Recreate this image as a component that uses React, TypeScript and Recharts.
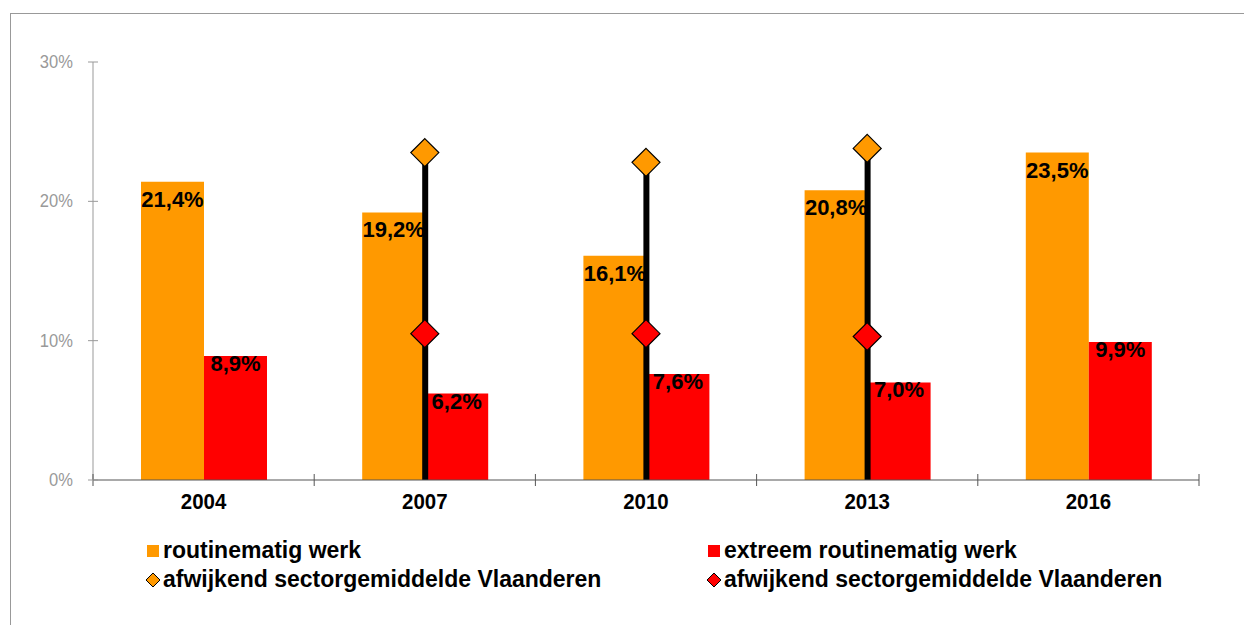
import { Bar, ComposedChart, LabelList, Scatter, XAxis, YAxis } from "recharts";

const years = ["2004", "2007", "2010", "2013", "2016"];
const routine = [21.4, 19.2, 16.1, 20.8, 23.5];
const extreme = [8.9, 6.2, 7.6, 7.0, 9.9];
const sectorRoutine = [null, 23.5, 22.8, 23.8, null];
const sectorExtreme = [null, 10.5, 10.5, 10.3, null];
const yTicks = [0, 10, 20, 30];

const legendItems = [
  { label: "routinematig werk", color: "#FF9900", icon: "square" },
  { label: "extreem routinematig werk", color: "#FF0000", icon: "square" },
  { label: "afwijkend sectorgemiddelde Vlaanderen", color: "#FF9900", icon: "diamond" },
  { label: "afwijkend sectorgemiddelde Vlaanderen", color: "#FF0000", icon: "diamond" },
];

const data = years.map((year, i) => ({
  year,
  routine: routine[i],
  extreme: extreme[i],
  sectorRoutine: sectorRoutine[i],
  sectorExtreme: sectorExtreme[i],
}));

const W = 1244;
const H = 625;
const margin = { top: 62, right: 45, bottom: 105, left: 0 };
const yAxisWidth = 93;
const halfBand = (W - margin.left - margin.right - yAxisWidth) / years.length / 2;
const font = "'Liberation Sans', Arial, sans-serif";

const fmt = (v: number) => v.toFixed(1).replace(".", ",") + "%";

const XTick = (props: any) => {
  const { x, y, payload, index } = props;
  return (
    <g>
      <line x1={x - halfBand} x2={x - halfBand} y1={y - 6} y2={y + 6} stroke="#555" />
      {index === years.length - 1 && (
        <line x1={x + halfBand} x2={x + halfBand} y1={y - 6} y2={y + 6} stroke="#555" />
      )}
      <text
        transform={`translate(${x},${y + 29}) scale(0.93,1)`}
        textAnchor="middle"
        fontSize={22}
        fontWeight="bold"
        fontFamily={font}
        fill="#000"
      >
        {payload.value}
      </text>
    </g>
  );
};

const YTick = (props: any) => {
  const { x, y, payload } = props;
  return (
    <g>
      <line x1={x - 5} x2={x + 5} y1={y} y2={y} stroke="#999" />
      <text
        transform={`translate(${x - 20},${y + 6}) scale(0.92,1)`}
        textAnchor="end"
        fontSize={18}
        fontFamily={font}
        fill="#999"
      >
        {payload.value}%
      </text>
    </g>
  );
};

const makeLabel = (capTop: number) => (props: any) => {
  const { x, y, width, value } = props;
  if (value == null) return null;
  return (
    <text
      x={x + width / 2}
      y={y + capTop + 16}
      textAnchor="middle"
      fontSize={22}
      fontWeight="bold"
      fontFamily={font}
      fill="#000"
    >
      {fmt(value)}
    </text>
  );
};

const makeDiamond = (color: string) => (props: any) => {
  const { cx, cy } = props;
  if (cx == null || cy == null || Number.isNaN(cy)) return null;
  const r = 14;
  return (
    <polygon
      points={`${cx},${cy - r} ${cx + r},${cy} ${cx},${cy + r} ${cx - r},${cy}`}
      fill={color}
      stroke="#000"
      strokeWidth={1.2}
    />
  );
};

const OrangeDiamond = (props: any) =>
  props.payload?.sectorRoutine == null ? null : makeDiamond("#FF9900")(props);
const RedDiamond = (props: any) =>
  props.payload?.sectorExtreme == null ? null : makeDiamond("#FF0000")(props);

const Legend = () => (
  <div
    style={{
      position: "absolute",
      left: 145,
      top: 536,
      width: 1100,
      display: "grid",
      gridTemplateColumns: "561px 500px",
      fontFamily: font,
      fontWeight: "bold",
      fontSize: 23,
      lineHeight: "29px",
      color: "#000",
    }}
  >
    {legendItems.map((item, i) => (
      <div key={i} style={{ display: "flex", alignItems: "center", whiteSpace: "nowrap" }}>
        <svg width={16} height={16} style={{ marginRight: 2 }}>
          {item.icon === "square" ? (
            <rect x={2} y={2} width={12} height={12} fill={item.color} />
          ) : (
            <polygon points="8,1 15,8 8,15 1,8" fill={item.color} stroke="#000" strokeWidth={1} />
          )}
        </svg>
        <span>{item.label}</span>
      </div>
    ))}
  </div>
);

export default function App() {
  return (
    <div style={{ position: "absolute", left: 0, top: 0, width: W, height: H, background: "#fff" }}>
      <div
        style={{
          position: "absolute",
          left: 10,
          top: 13,
          right: 0,
          bottom: 0,
          borderTop: "1px solid #999",
          borderLeft: "1px solid #999",
        }}
      />
      <div style={{ position: "absolute", left: 0, top: 0 }}>
        <ComposedChart width={W} height={H} data={data} margin={margin} barGap={0}>
          <XAxis
            dataKey="year"
            height={40}
            axisLine={{ stroke: "#555" }}
            tickLine={false}
            tickSize={0}
            tickMargin={0}
            tick={<XTick />}
            interval={0}
          />
          <XAxis dataKey="year" xAxisId="line" hide />
          <YAxis
            width={yAxisWidth}
            domain={[0, 30]}
            ticks={yTicks}
            axisLine={{ stroke: "#999" }}
            tickLine={false}
            tickSize={0}
            tickMargin={0}
            tick={<YTick />}
          />
          <Bar dataKey="routine" fill="#FF9900" barSize={63} isAnimationActive={false}>
            <LabelList dataKey="routine" content={makeLabel(9)} />
          </Bar>
          <Bar dataKey="extreme" fill="#FF0000" barSize={63} isAnimationActive={false}>
            <LabelList dataKey="extreme" content={makeLabel(-1)} />
          </Bar>
          <Bar dataKey="sectorRoutine" xAxisId="line" fill="#000" barSize={6} isAnimationActive={false} />
          <Scatter dataKey="sectorRoutine" shape={<OrangeDiamond />} isAnimationActive={false} />
          <Scatter dataKey="sectorExtreme" shape={<RedDiamond />} isAnimationActive={false} />
        </ComposedChart>
      </div>
      <Legend />
    </div>
  );
}
